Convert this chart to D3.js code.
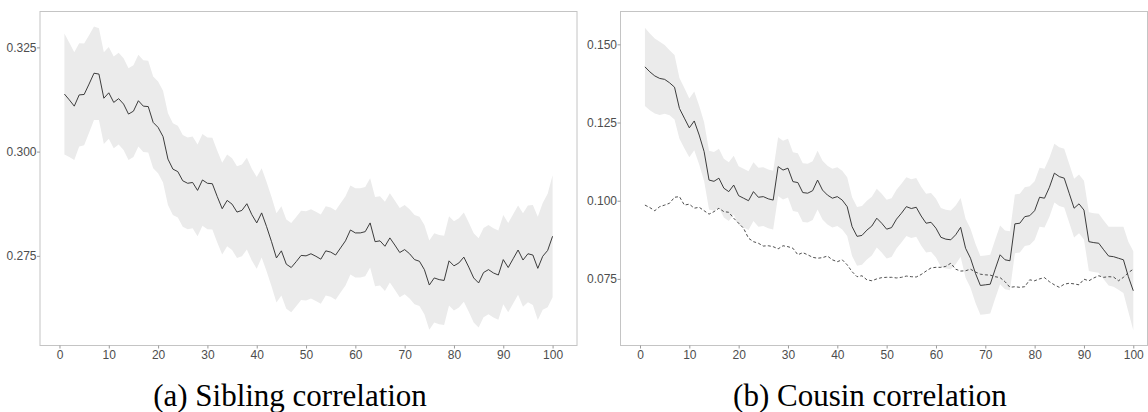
<!DOCTYPE html>
<html>
<head>
<meta charset="utf-8">
<script src="https://cdn.jsdelivr.net/npm/d3@7"></script>
<style>
  html, body { margin: 0; padding: 0; background: #fff; }
  svg { display: block; }
</style>
</head>
<body>
<svg id="chart" width="1148" height="412"></svg>
<script>
// ---------------- DATA ----------------
const generation = [1,2,3,4,5,6,7,8,9,10,11,12,13,14,15,16,17,18,19,20,21,22,23,24,25,26,27,28,29,30,31,32,33,34,35,36,37,38,39,40,41,42,43,44,45,46,47,48,49,50,51,52,53,54,55,56,57,58,59,60,61,62,63,64,65,66,67,68,69,70,71,72,73,74,75,76,77,78,79,80,81,82,83,84,85,86,87,88,89,90,91,92,93,94,95,96,97,98,99,100];

const xTickValues = [0,10,20,30,40,50,60,70,80,90,100];
const siblingYTicks = [0.275, 0.300, 0.325];
const cousinYTicks = [0.075, 0.100, 0.125, 0.150];
const captions = ["(a) Sibling correlation", "(b) Cousin correlation"];

// Sibling correlation: mean, lower and upper band
const siblingMean = [0.3138,0.3124,0.3109,0.3136,0.3137,0.3162,0.3188,0.3186,0.3128,0.3141,
0.3118,0.3127,0.3114,0.3090,0.3097,0.3122,0.3109,0.3108,0.3070,0.3058,
0.3036,0.2982,0.2958,0.2952,0.2930,0.2924,0.2926,0.2907,0.2932,0.2924,
0.2923,0.2892,0.2863,0.2883,0.2874,0.2855,0.2859,0.2875,0.2849,0.2829,
0.2853,0.2820,0.2784,0.2745,0.2762,0.2730,0.2722,0.2736,0.2751,0.2750,
0.2755,0.2749,0.2742,0.2762,0.2759,0.2752,0.2769,0.2786,0.2812,0.2805,
0.2805,0.2808,0.2829,0.2784,0.2786,0.2773,0.2793,0.2776,0.2758,0.2765,
0.2755,0.2741,0.2737,0.2717,0.2680,0.2697,0.2693,0.2691,0.2738,0.2726,
0.2733,0.2747,0.2723,0.2697,0.2685,0.2710,0.2717,0.2709,0.2704,0.2741,
0.2722,0.2743,0.2764,0.2740,0.2755,0.2752,0.2720,0.2749,0.2763,0.2797];

const siblingLower = [0.2993,0.2987,0.2980,0.3012,0.3015,0.3045,0.3076,0.3076,0.3018,0.3031,
0.3008,0.3017,0.3004,0.2980,0.2987,0.3012,0.2999,0.2998,0.2960,0.2948,
0.2926,0.2872,0.2848,0.2842,0.2820,0.2814,0.2816,0.2797,0.2822,0.2814,
0.2813,0.2782,0.2753,0.2773,0.2764,0.2745,0.2749,0.2765,0.2739,0.2719,
0.2746,0.2713,0.2677,0.2638,0.2655,0.2623,0.2615,0.2629,0.2644,0.2643,
0.2648,0.2642,0.2635,0.2655,0.2652,0.2645,0.2662,0.2679,0.2705,0.2698,
0.2698,0.2701,0.2722,0.2677,0.2679,0.2666,0.2686,0.2669,0.2651,0.2658,
0.2648,0.2634,0.2630,0.2610,0.2573,0.2590,0.2586,0.2584,0.2631,0.2619,
0.2626,0.2640,0.2616,0.2590,0.2578,0.2603,0.2610,0.2602,0.2597,0.2634,
0.2615,0.2636,0.2657,0.2628,0.2639,0.2632,0.2596,0.2621,0.2627,0.2651];

const siblingUpper = [0.3283,0.3261,0.3238,0.3260,0.3259,0.3279,0.3300,0.3296,0.3238,0.3251,
0.3228,0.3237,0.3224,0.3200,0.3207,0.3232,0.3219,0.3218,0.3180,0.3168,
0.3146,0.3092,0.3068,0.3062,0.3040,0.3034,0.3036,0.3017,0.3042,0.3034,
0.3033,0.3002,0.2973,0.2993,0.2984,0.2965,0.2969,0.2985,0.2959,0.2939,
0.2960,0.2927,0.2891,0.2852,0.2869,0.2837,0.2829,0.2843,0.2858,0.2857,
0.2862,0.2856,0.2849,0.2869,0.2866,0.2859,0.2876,0.2893,0.2919,0.2912,
0.2912,0.2915,0.2936,0.2891,0.2893,0.2880,0.2900,0.2883,0.2865,0.2872,
0.2862,0.2848,0.2844,0.2824,0.2787,0.2804,0.2800,0.2798,0.2845,0.2833,
0.2840,0.2854,0.2830,0.2804,0.2792,0.2817,0.2824,0.2816,0.2811,0.2848,
0.2829,0.2850,0.2871,0.2852,0.2871,0.2872,0.2844,0.2877,0.2899,0.2943];

// Cousin correlation: mean, lower and upper band, and dashed reference line
const cousinMean = [0.1428,0.1412,0.1399,0.1391,0.1388,0.1377,0.1363,0.1295,0.1264,0.1233,
0.1255,0.1210,0.1157,0.1066,0.1062,0.1072,0.1040,0.1029,0.1050,0.1016,
0.1008,0.1000,0.1029,0.1011,0.1013,0.1006,0.1002,0.1109,0.1098,0.1104,
0.1061,0.1058,0.1026,0.1024,0.1032,0.1066,0.1034,0.1018,0.1008,0.1013,
0.1002,0.0981,0.0917,0.0886,0.0889,0.0906,0.0919,0.0944,0.0928,0.0909,
0.0914,0.0941,0.0960,0.0981,0.0975,0.0979,0.0951,0.0928,0.0931,0.0912,
0.0883,0.0877,0.0875,0.0891,0.0915,0.0848,0.0816,0.0768,0.0729,0.0731,
0.0733,0.0781,0.0827,0.0811,0.0808,0.0926,0.0928,0.0949,0.0952,0.0968,
0.1011,0.1008,0.1043,0.1088,0.1077,0.1072,0.1024,0.0976,0.0990,0.0970,
0.0869,0.0866,0.0864,0.0843,0.0823,0.0821,0.0816,0.0811,0.0757,0.0712];

const cousinLower = [0.1303,0.1289,0.1279,0.1274,0.1278,0.1273,0.1260,0.1198,0.1168,0.1139,
0.1161,0.1116,0.1063,0.0972,0.0968,0.0978,0.0946,0.0935,0.0956,0.0922,
0.0914,0.0906,0.0935,0.0917,0.0919,0.0912,0.0908,0.1015,0.1004,0.1010,
0.0967,0.0964,0.0932,0.0930,0.0938,0.0972,0.0940,0.0924,0.0914,0.0919,
0.0908,0.0887,0.0823,0.0792,0.0795,0.0812,0.0825,0.0850,0.0834,0.0815,
0.0820,0.0847,0.0866,0.0887,0.0881,0.0885,0.0857,0.0834,0.0837,0.0818,
0.0789,0.0783,0.0781,0.0797,0.0821,0.0754,0.0722,0.0674,0.0635,0.0637,
0.0639,0.0687,0.0733,0.0717,0.0714,0.0832,0.0834,0.0855,0.0858,0.0874,
0.0917,0.0914,0.0949,0.0994,0.0983,0.0978,0.0930,0.0882,0.0896,0.0876,
0.0775,0.0772,0.0770,0.0749,0.0729,0.0725,0.0715,0.0705,0.0645,0.0586];

const cousinUpper = [0.1553,0.1535,0.1519,0.1508,0.1498,0.1481,0.1466,0.1392,0.1360,0.1327,
0.1349,0.1304,0.1251,0.1160,0.1156,0.1166,0.1134,0.1123,0.1144,0.1110,
0.1102,0.1094,0.1123,0.1105,0.1107,0.1100,0.1096,0.1203,0.1192,0.1198,
0.1155,0.1152,0.1120,0.1118,0.1126,0.1160,0.1128,0.1112,0.1102,0.1107,
0.1096,0.1075,0.1011,0.0980,0.0983,0.1000,0.1013,0.1038,0.1022,0.1003,
0.1008,0.1035,0.1054,0.1075,0.1069,0.1073,0.1045,0.1022,0.1025,0.1006,
0.0977,0.0971,0.0969,0.0985,0.1009,0.0942,0.0910,0.0862,0.0823,0.0825,
0.0827,0.0875,0.0921,0.0905,0.0902,0.1020,0.1022,0.1043,0.1046,0.1062,
0.1105,0.1102,0.1137,0.1182,0.1171,0.1166,0.1118,0.1070,0.1084,0.1064,
0.0963,0.0960,0.0958,0.0937,0.0917,0.0917,0.0917,0.0917,0.0869,0.0838];

const cousinDashed = [0.0986,0.0978,0.0968,0.0981,0.0986,0.0992,0.1011,0.1013,0.0986,0.0989,
0.0976,0.0979,0.0968,0.0957,0.0965,0.0976,0.0965,0.0963,0.0944,0.0928,
0.0912,0.0880,0.0869,0.0864,0.0855,0.0856,0.0853,0.0846,0.0856,0.0853,
0.0848,0.0827,0.0834,0.0827,0.0819,0.0816,0.0818,0.0823,0.0811,0.0805,
0.0811,0.0795,0.0773,0.0757,0.0760,0.0747,0.0744,0.0750,0.0754,0.0755,
0.0755,0.0753,0.0755,0.0759,0.0757,0.0756,0.0764,0.0775,0.0785,0.0787,
0.0787,0.0790,0.0800,0.0781,0.0775,0.0776,0.0781,0.0772,0.0765,0.0763,
0.0762,0.0757,0.0754,0.0741,0.0723,0.0725,0.0723,0.0725,0.0747,0.0744,
0.0750,0.0754,0.0741,0.0731,0.0723,0.0733,0.0736,0.0734,0.0731,0.0749,
0.0744,0.0753,0.0760,0.0755,0.0757,0.0756,0.0744,0.0755,0.0770,0.0781];

// ---------------- DRAW ----------------
const svg = d3.select("#chart");
const FONT = "'Liberation Sans', Arial, Helvetica, sans-serif";

function drawPanel(cfg) {
  const x = d3.scaleLinear().domain(cfg.xDomain).range([cfg.left, cfg.right]);
  const y = d3.scaleLinear().domain(cfg.yDomain).range([cfg.bottom, cfg.top]);
  const g = svg.append("g");

  // ribbon
  const area = d3.area()
    .x((d, i) => x(generation[i]))
    .y0((d, i) => y(cfg.lower[i]))
    .y1((d, i) => y(cfg.upper[i]));
  g.append("path").datum(cfg.mean).attr("d", area)
    .attr("fill", "#ebebeb").attr("stroke", "none");

  const line = d3.line().x((d, i) => x(generation[i])).y(d => y(d));

  if (cfg.dashed) {
    g.append("path").datum(cfg.dashed).attr("d", line)
      .attr("fill", "none").attr("stroke", "#3a3a3a")
      .attr("stroke-width", 0.9).attr("stroke-dasharray", "3,2.2");
  }
  g.append("path").datum(cfg.mean).attr("d", line)
    .attr("fill", "none").attr("stroke", "#333")
    .attr("stroke-width", 0.95).attr("stroke-linejoin", "round");

  // panel border
  g.append("rect")
    .attr("x", cfg.left).attr("y", cfg.top)
    .attr("width", cfg.right - cfg.left).attr("height", cfg.bottom - cfg.top)
    .attr("fill", "none").attr("stroke", "#c4c4c4").attr("stroke-width", 1);

  // axes
  const ax = g.append("g").attr("transform", `translate(0,${cfg.bottom})`)
    .call(d3.axisBottom(x).tickValues(xTickValues).tickSize(3).tickPadding(1.5).tickFormat(d3.format("d")));
  const ay = g.append("g").attr("transform", `translate(${cfg.left},0)`)
    .call(d3.axisLeft(y).tickValues(cfg.yTicks).tickSize(3).tickPadding(0.5).tickFormat(d3.format(".3f")));
  [ax, ay].forEach(a => {
    a.select(".domain").remove();
    a.selectAll(".tick line").attr("stroke", "#9a9a9a");
    a.selectAll(".tick text").attr("fill", "#4d4d4d")
      .style("font-family", FONT).style("font-size", "12px");
  });

  svg.append("text")
    .attr("x", cfg.captionX).attr("y", 406)
    .attr("text-anchor", "middle")
    .style("font-family", "'Liberation Serif', 'Times New Roman', serif")
    .style("font-size", "31px").attr("fill", "#000")
    .text(cfg.caption);
}

drawPanel({
  left: 40, right: 577, top: 11.5, bottom: 345.5,
  xDomain: [-3.95, 104.95], yDomain: [0.2535, 0.3336],
  mean: siblingMean, lower: siblingLower, upper: siblingUpper,
  yTicks: siblingYTicks, caption: captions[0], captionX: 290
});

drawPanel({
  left: 620.5, right: 1147.5, top: 11.5, bottom: 345.5,
  xDomain: [-3.95, 102.88], yDomain: [0.0537, 0.1605],
  mean: cousinMean, lower: cousinLower, upper: cousinUpper, dashed: cousinDashed,
  yTicks: cousinYTicks, caption: captions[1], captionX: 870
});
</script>
</body>
</html>
